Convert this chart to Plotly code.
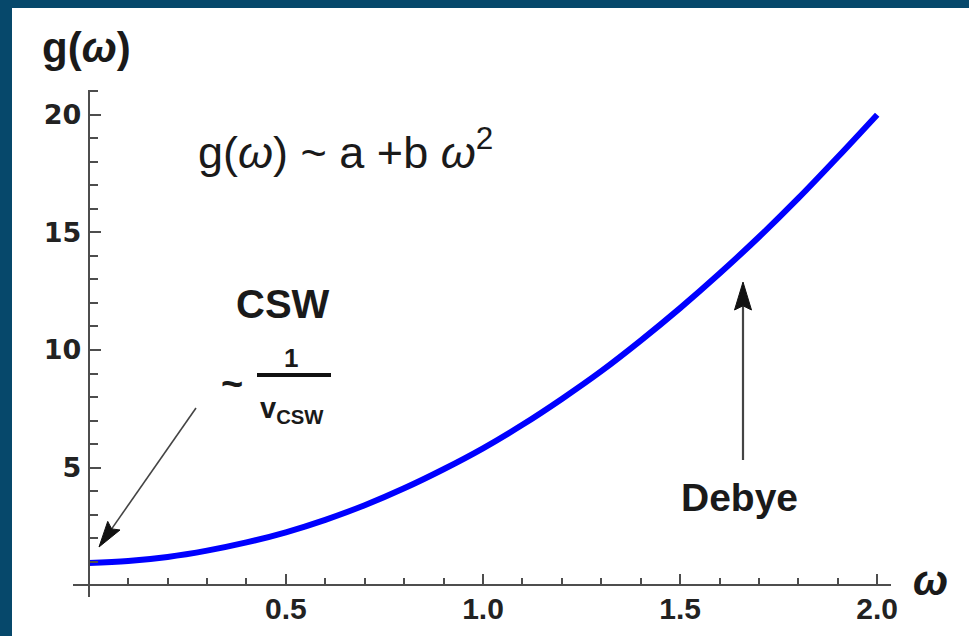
import math
import plotly.graph_objects as go

# ---------------- data ----------------
OMEGA = [0.0, 0.1, 0.2, 0.3, 0.4, 0.5, 0.6, 0.7, 0.8, 0.9, 1.0,
         1.1, 1.2, 1.3, 1.4, 1.5, 1.6, 1.7, 1.8, 1.9, 2.0]
G_VALUES = [0.95, 1.03, 1.2, 1.47, 1.82, 2.25, 2.78, 3.4, 4.12, 4.93, 5.82,
            6.82, 7.92, 9.1, 10.4, 11.78, 13.25, 14.8, 16.45, 18.2, 20.0]
X_TICK_VALUES = [0.5, 1.0, 1.5, 2.0]
X_TICK_TEXT = ["0.5", "1.0", "1.5", "2.0"]
Y_TICK_VALUES = [5, 10, 15, 20]
Y_TICK_TEXT = ["5", "10", "15", "20"]

# ---------------- layout geometry ----------------
W, H = 969, 636
ML, MR, MT, MB = 73, 78, 90, 39
XR = [-0.04, 2.035]
YR = [-0.5, 21.05]
PW = W - ML - MR
PH = H - MT - MB

BORDER = "#06486b"
AXIS_COL = "#4d4d4d"
TXT = "#1a1a1a"


def xd(px):
    return XR[0] + (px - ML) / PW * (XR[1] - XR[0])


def yd(py):
    return YR[0] + (H - MB - py) / PH * (YR[1] - YR[0])


def xp(px):
    return (px - ML) / PW


def yp(py):
    return (H - MB - py) / PH


fig = go.Figure()
fig.add_trace(go.Scatter(
    x=OMEGA, y=G_VALUES, mode="lines",
    line=dict(color="#0000ff", width=6, shape="spline", smoothing=1),
    hoverinfo="skip", showlegend=False,
))

shapes = []
# white panel inside the dark frame
shapes.append(dict(type="rect", xref="paper", yref="paper",
                   x0=xp(12), x1=xp(975), y0=yp(642), y1=yp(8),
                   fillcolor="white", line=dict(width=0), layer="below"))


def arrow(tail, tip, head_len, head_w, color, width):
    tx, ty = tail
    hx, hy = tip
    dx, dy = hx - tx, hy - ty
    L = math.hypot(dx, dy)
    ux, uy = dx / L, dy / L
    bx, by = hx - ux * head_len * 0.85, hy - uy * head_len * 0.85
    shapes.append(dict(type="line", xref="x", yref="y",
                       x0=xd(tx), y0=yd(ty), x1=xd(bx), y1=yd(by),
                       line=dict(color=color, width=width)))
    px_, py_ = -uy, ux
    b2x, b2y = hx - ux * head_len, hy - uy * head_len
    p1 = (b2x + px_ * head_w / 2, b2y + py_ * head_w / 2)
    p2 = (b2x - px_ * head_w / 2, b2y - py_ * head_w / 2)
    notch = (hx - ux * head_len * 0.85, hy - uy * head_len * 0.85)
    path = (f"M{xd(hx)},{yd(hy)} L{xd(p1[0])},{yd(p1[1])} "
            f"L{xd(notch[0])},{yd(notch[1])} L{xd(p2[0])},{yd(p2[1])} Z")
    shapes.append(dict(type="path", xref="x", yref="y", path=path,
                       fillcolor="#111111", line=dict(color="#111111", width=1)))


arrow((196, 408), (99, 547), 26, 15, "#444444", 1.6)
arrow((743, 460), (743, 282), 28, 17, "#444444", 2.2)

# fraction bar
shapes.append(dict(type="line", xref="paper", yref="paper",
                   x0=xp(257), x1=xp(331), y0=yp(375), y1=yp(375),
                   line=dict(color="#111111", width=4)))

annotations = []


def label(text, cx, cy, size, family="Liberation Sans", color=TXT, xanchor="center"):
    annotations.append(dict(text=text, x=xp(cx), y=yp(cy), xref="paper", yref="paper",
                            xanchor=xanchor, yanchor="middle", showarrow=False,
                            font=dict(family=family, size=size, color=color)))


label("<b>g(<i>ω</i>)</b>", 86, 47, 42)
label("g(<i>ω</i>) ~ a +b <i>ω</i><sup>2</sup>", 345, 149, 45)
label("<b>CSW</b>", 283, 304, 40)
label("<b>~</b>", 232, 384, 38)
label("<b>1</b>", 291, 358, 26)
label("<b>v<sub>CSW</sub></b>", 292, 410, 29)
label("<b>Debye</b>", 739, 497, 39)
label("<b><i>ω</i></b>", 930, 580, 42)

X_TICK_FONT = dict(family="Liberation Sans", size=30, color="#222222", weight="bold")
Y_TICK_FONT = dict(family="DejaVu Sans", size=27, color="#222222", weight="bold")

fig.update_layout(
    width=W, height=H,
    margin=dict(l=ML, r=MR, t=MT, b=MB, pad=0),
    paper_bgcolor=BORDER, plot_bgcolor="rgba(0,0,0,0)",
    showlegend=False,
    shapes=shapes, annotations=annotations,
    xaxis=dict(range=XR, anchor="free", position=(0 - YR[0]) / (YR[1] - YR[0]),
               showline=True, linecolor=AXIS_COL, linewidth=2,
               showgrid=False, zeroline=False,
               tickmode="array", tickvals=X_TICK_VALUES, ticktext=X_TICK_TEXT,
               ticks="inside", ticklen=10, tickwidth=1.6, tickcolor=AXIS_COL,
               tickfont=X_TICK_FONT, ticklabelstandoff=-3,
               minor=dict(tickmode="linear", tick0=0, dtick=0.1, ticks="inside",
                          ticklen=6, tickwidth=1.5, tickcolor=AXIS_COL, showgrid=False),
               fixedrange=True),
    yaxis=dict(range=YR, anchor="free", position=(0 - XR[0]) / (XR[1] - XR[0]),
               showline=True, linecolor=AXIS_COL, linewidth=2,
               showgrid=False, zeroline=False,
               tickmode="array", tickvals=Y_TICK_VALUES, ticktext=Y_TICK_TEXT,
               ticks="inside", ticklen=11, tickwidth=1.6, tickcolor=AXIS_COL,
               tickfont=Y_TICK_FONT, ticklabelstandoff=1,
               minor=dict(tickmode="linear", tick0=0, dtick=1, ticks="inside",
                          ticklen=8, tickwidth=1.5, tickcolor=AXIS_COL, showgrid=False),
               fixedrange=True),
)

fig.write_html("out.html", config={"displayModeBar": False},
               post_script="document.body.style.margin='0px';")
